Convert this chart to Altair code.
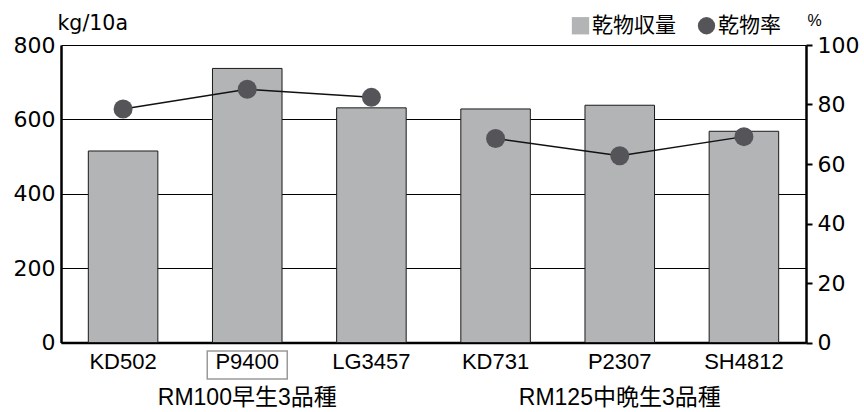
import altair as alt
import pandas as pd

cats = ["KD502", "P9400", "LG3457", "KD731", "P2307", "SH4812"]
groups = ["RM100早生3品種"] * 3 + ["RM125中晩生3品種"] * 3
yield_vals = [515, 737, 631, 628, 638, 568]
rate_vals = [78.5, 85.1, 82.4, 68.6, 62.8, 69.2]
group_names = ["RM100早生3品種", "RM125中晩生3品種"]
group_center_cats = ["P9400", "P2307"]
highlight_cat = ["P9400"]
series_names = ["乾物収量", "乾物率"]
left_ticks = [0, 200, 400, 600, 800]
right_ticks = [0, 20, 40, 60, 80, 100]

df = pd.DataFrame({"cat": cats, "group": groups, "yield": yield_vals,
                   "rate": rate_vals, "series": series_names[1]})
grp_df = pd.DataFrame({"cat": group_center_cats, "label": group_names})
box_df = pd.DataFrame({"cat": highlight_cat})

FONT = "Liberation Sans, Noto Sans CJK JP"
NUMFONT = "DejaVu Sans"

xscale = alt.Scale(domain=cats, paddingInner=0.44, paddingOuter=0.22)
x_axis = alt.Axis(title=None, labelAngle=0, labelFontSize=22, labelFont=FONT,
                  labelColor="#000", domainColor="#000", domainWidth=2.5,
                  ticks=False, labelPadding=9, grid=False)
x_enc = alt.X("cat:N", scale=xscale, axis=x_axis)

bars = alt.Chart(df).mark_bar(stroke="#1a1a1a", strokeWidth=1, fill="#b3b4b6").encode(
    x=x_enc,
    y=alt.Y("yield:Q", scale=alt.Scale(domain=[0, 800]),
            axis=alt.Axis(values=left_ticks, title="kg/10a", titleAngle=0,
                          titleAlign="left", titleBaseline="alphabetic",
                          titleX=-4, titleY=-16, titleFontSize=20.5,
                          titleFontWeight="normal", titleFont=NUMFONT,
                          titleColor="#000",
                          labelFont=NUMFONT, labelFontSize=22, labelColor="#000",
                          ticks=False, labelPadding=6, grid=True,
                          gridColor="#000", gridWidth=1, gridOpacity=1,
                          domainColor="#000", domainWidth=2.5)),
)

rate_scale = alt.Scale(domain=[0, 100])

line = alt.Chart(df).mark_line(color="#111", strokeWidth=1.5).encode(
    x=x_enc,
    y=alt.Y("rate:Q", scale=rate_scale,
            axis=alt.Axis(orient="right", values=right_ticks, title="%",
                          titleAngle=0, titleAlign="left",
                          titleBaseline="alphabetic", titleX=1, titleY=-20,
                          titleFontSize=16, titleFontWeight="normal",
                          titleFont=FONT, titleColor="#000",
                          labelFont=NUMFONT, labelFontSize=22, labelColor="#000",
                          tickSize=6, tickColor="#000", tickWidth=2,
                          labelPadding=5, domainColor="#000", domainWidth=2.5,
                          grid=False)),
    detail="group:N",
)

leg = alt.Legend(title=None, orient="none", legendX=509, legendY=-30,
                 direction="horizontal", labelFont=FONT, labelFontSize=21,
                 labelColor="#000", symbolSize=300, symbolStrokeWidth=0,
                 labelOffset=1, columnPadding=20, padding=0)

points = alt.Chart(df).mark_point(filled=True, size=361, opacity=1, strokeWidth=0).encode(
    x=x_enc,
    y=alt.Y("rate:Q", scale=rate_scale, axis=None),
    color=alt.Color("series:N", scale=alt.Scale(domain=series_names,
                                                range=["#b3b4b6", "#555459"]),
                    legend=leg),
    shape=alt.Shape("series:N", scale=alt.Scale(domain=series_names,
                                                range=["square", "circle"]),
                    legend=leg),
)

box = alt.Chart(box_df).mark_bar(filled=False, stroke="#9a9a9a", strokeWidth=1.5,
                                 width=80).encode(
    x=x_enc, y=alt.value(306), y2=alt.value(334))

grp_text = alt.Chart(grp_df).mark_text(fontSize=23, font=FONT, baseline="middle",
                                       color="#000").encode(
    x=x_enc, y=alt.value(353), text="label:N")

chart = alt.layer(bars, line, points, box, grp_text).resolve_scale(
    y="independent"
).properties(
    width=745, height=297.5,
    padding={"left": 61, "top": 45, "right": 58, "bottom": 69},
    autosize=alt.AutoSizeParams(type="none"),
).configure_view(stroke=None)

chart.save("out.html", embed_options={"renderer": "svg", "actions": False})
